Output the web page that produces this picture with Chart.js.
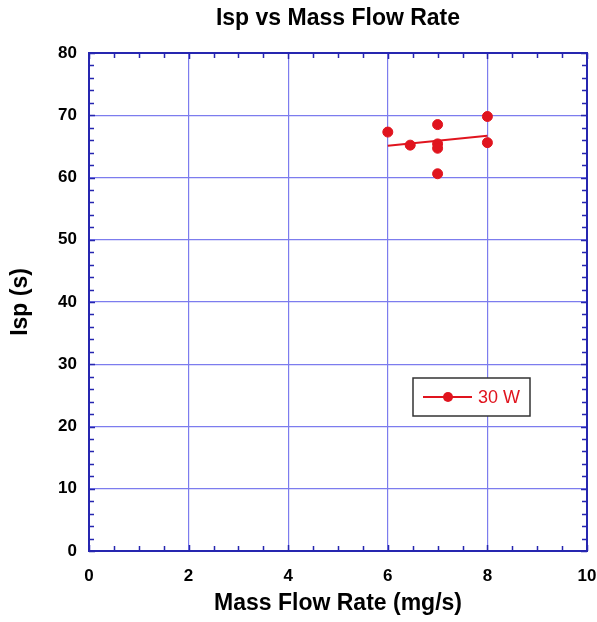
<!DOCTYPE html>
<html>
<head>
<meta charset="utf-8">
<title>Isp vs Mass Flow Rate</title>
<script src="https://cdn.jsdelivr.net/npm/chart.js@4/dist/chart.umd.min.js"></script>
<style>
  html, body { margin: 0; padding: 0; background: #fff; }
  #wrap { width: 597px; height: 622px; }
</style>
</head>
<body>
<div id="wrap"><canvas id="ispChart" width="597" height="622"></canvas></div>
<script>
// measured points, 30 W run
const flowRate = [6, 6.45, 7, 7, 7, 7, 8, 8];
const isp = [67.3, 65.2, 68.5, 65.4, 64.7, 60.6, 69.8, 65.6];

// linear fit drawn through the data
const fitX = [6, 8];
const fitY = [65.1, 66.7];

const xTicks = [0, 2, 4, 6, 8, 10];
const yTicks = [0, 10, 20, 30, 40, 50, 60, 70, 80];
const seriesLabel = '30 W';

const red = '#e0141e';
const axisBlue = '#2626b0';
const gridBlue = '#7c7cee';

// title, box frame, minor ticks and the legend box
const decorations = {
    id: 'decorations',
    beforeDatasetsDraw(chart) {
        const ctx = chart.ctx;
        const a = chart.chartArea;
        const xs = chart.scales.x, ys = chart.scales.y;
        ctx.save();
        ctx.strokeStyle = axisBlue;
        ctx.lineWidth = 2;
        ctx.strokeRect(a.left, a.top, a.right - a.left, a.bottom - a.top);

        ctx.lineWidth = 1.5;
        ctx.beginPath();
        for (let i = 0; i < xTicks.length - 1; i++) {
            const step = (xTicks[i + 1] - xTicks[i]) / 4;
            for (let k = 0; k <= 4; k++) {
                const px = Math.round(xs.getPixelForValue(xTicks[i] + k * step)) + 0.5;
                const len = (k === 0 || k === 4) ? 6 : 5;
                ctx.moveTo(px, a.bottom); ctx.lineTo(px, a.bottom - len);
                ctx.moveTo(px, a.top); ctx.lineTo(px, a.top + len);
            }
        }
        for (let i = 0; i < yTicks.length - 1; i++) {
            const step = (yTicks[i + 1] - yTicks[i]) / 5;
            for (let k = 0; k <= 5; k++) {
                const py = Math.round(ys.getPixelForValue(yTicks[i] + k * step)) + 0.5;
                const len = (k === 0 || k === 5) ? 6 : 5;
                ctx.moveTo(a.left, py); ctx.lineTo(a.left + len, py);
                ctx.moveTo(a.right, py); ctx.lineTo(a.right - len, py);
            }
        }
        ctx.stroke();
        ctx.restore();
    },
    afterDraw(chart) {
        const ctx = chart.ctx;
        const a = chart.chartArea;
        ctx.save();
        // title centred over the plot box
        ctx.fillStyle = '#000';
        ctx.font = 'bold 23px "Liberation Sans", Arial, sans-serif';
        ctx.textAlign = 'center';
        ctx.textBaseline = 'middle';
        ctx.fillText('Isp vs Mass Flow Rate', (a.left + a.right) / 2, 19);

        // legend box
        const bx = 413, by = 378, bw = 117, bh = 38;
        ctx.fillStyle = '#fff';
        ctx.fillRect(bx, by, bw, bh);
        ctx.strokeStyle = '#333';
        ctx.lineWidth = 1.5;
        ctx.strokeRect(bx, by, bw, bh);
        const ly = by + bh / 2;
        ctx.strokeStyle = red;
        ctx.lineWidth = 2;
        ctx.beginPath();
        ctx.moveTo(bx + 10, ly); ctx.lineTo(bx + 59, ly);
        ctx.stroke();
        ctx.fillStyle = red;
        ctx.beginPath();
        ctx.arc(bx + 35, ly, 5, 0, Math.PI * 2);
        ctx.fill();
        ctx.font = '18px "Liberation Sans", Arial, sans-serif';
        ctx.textAlign = 'left';
        ctx.fillText(seriesLabel, bx + 65, ly + 1);
        ctx.restore();
    }
};

const ctx = document.getElementById('ispChart').getContext('2d');
new Chart(ctx, {
    type: 'scatter',
    data: {
        datasets: [{
            label: seriesLabel,
            data: flowRate.map((x, i) => ({ x: x, y: isp[i] })),
            backgroundColor: red,
            borderColor: red,
            pointRadius: 5,
            showLine: false
        }, {
            label: 'fit',
            data: fitX.map((x, i) => ({ x: x, y: fitY[i] })),
            borderColor: red,
            borderWidth: 2,
            pointRadius: 0,
            showLine: true
        }]
    },
    options: {
        responsive: false,
        animation: false,
        layout: { padding: { top: 53, right: 10, left: 0, bottom: 0 } },
        plugins: {
            legend: { display: false },
            title: { display: false },
            tooltip: { enabled: false }
        },
        scales: {
            x: {
                type: 'linear',
                min: 0,
                max: 10,
                afterFit: s => {
                    s.height = 71;
                    s.paddingLeft = 0;
                    s.paddingRight = 0;
                },
                afterBuildTicks: s => { s.ticks = xTicks.map(v => ({ value: v })); },
                grid: { color: gridBlue, lineWidth: 1.2, drawTicks: false },
                border: { display: false },
                ticks: {
                    color: '#000',
                    padding: 15,
                    font: { family: '"Liberation Sans", Arial, sans-serif', size: 17, weight: 'bold' }
                },
                title: {
                    display: true,
                    text: 'Mass Flow Rate (mg/s)',
                    color: '#000',
                    padding: { top: 0, bottom: 5 },
                    font: { family: '"Liberation Sans", Arial, sans-serif', size: 23, weight: 'bold' }
                }
            },
            y: {
                type: 'linear',
                min: 0,
                max: 80,
                afterFit: s => {
                    s.width = 89;
                    s.paddingTop = 0;
                    s.paddingBottom = 0;
                },
                afterBuildTicks: s => { s.ticks = yTicks.map(v => ({ value: v })); },
                grid: { color: gridBlue, lineWidth: 1.2, drawTicks: false },
                border: { display: false },
                ticks: {
                    color: '#000',
                    padding: 12,
                    font: { family: '"Liberation Sans", Arial, sans-serif', size: 17, weight: 'bold' }
                },
                title: {
                    display: true,
                    text: 'Isp (s)',
                    color: '#000',
                    padding: { top: 7, bottom: 0 },
                    font: { family: '"Liberation Sans", Arial, sans-serif', size: 23, weight: 'bold' }
                }
            }
        }
    },
    plugins: [decorations]
});
</script>
</body>
</html>
